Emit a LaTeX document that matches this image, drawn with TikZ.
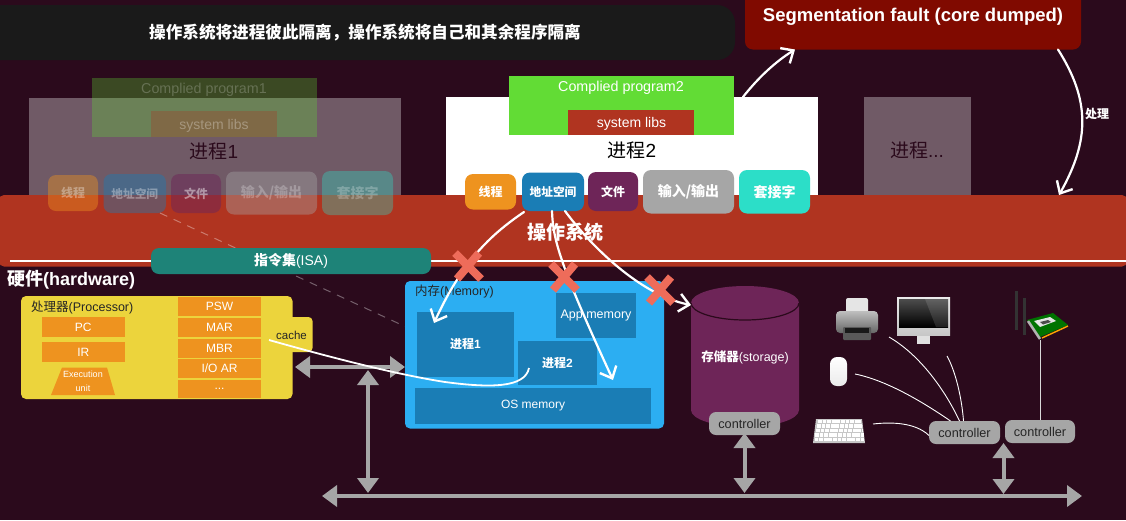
\documentclass[tikz,border=0pt]{standalone}
\usepackage{fontspec}
\setmainfont{Liberation Sans}
\newfontfamily\cjk{Noto Sans CJK SC}
\usetikzlibrary{arrows.meta,calc,shapes.geometric}
\definecolor{bgc}{RGB}{43,10,28}
\definecolor{osred}{RGB}{176,52,32}
\definecolor{banner}{RGB}{26,26,26}
\definecolor{segred}{RGB}{128,10,0}
\definecolor{prog}{RGB}{98,220,53}
\definecolor{orng}{RGB}{238,147,31}
\definecolor{bluebtn}{RGB}{26,125,181}
\definecolor{purp}{RGB}{110,37,88}
\definecolor{gry}{RGB}{166,166,166}
\definecolor{teal1}{RGB}{44,222,200}
\definecolor{isac}{RGB}{30,131,120}
\definecolor{yel}{RGB}{236,212,60}
\definecolor{memc}{RGB}{44,174,242}
\definecolor{xred}{RGB}{238,108,90}
\newcommand\zh[1]{{\cjk #1}}
\newcommand\fz[1]{\fontsize{#1}{#1}\selectfont}
\newcommand\bx[7]{%
  \pgfmathsetmacro\bxw{#4-#2}\pgfmathsetmacro\bxh{#5-#3}%
  \pgfmathsetmacro\bxx{(#2+#4)/2}\pgfmathsetmacro\bxy{(#3+#5)/2}%
  \node[inner sep=0pt,outer sep=0pt,align=center,minimum width=\bxw pt,minimum height=\bxh pt,#6] (#1) at (\bxx,\bxy) {#7};}
\newcommand\redx[3]{%
  \coordinate (#1) at (#2,#3);
  \draw[cross] ([xshift=-11,yshift=-13]#1) -- ([xshift=11,yshift=13]#1);
  \draw[cross] ([xshift=-13,yshift=13]#1) -- ([xshift=13,yshift=-13]#1);}
\tikzset{
  flat/.style={fill=#1,draw=none},
  rnd/.style={rounded corners=#1},
  wire/.style={draw=white,line width=0.9pt},
  hand/.style={draw=white,line width=2.2pt,line cap=round},
  handtip/.style={hand,-{Straight Barb[length=10pt,width=18pt,line width=2.4pt]}},
  greybus/.style={draw=gry,line width=4pt,{Triangle[length=15pt,width=21pt]}-{Triangle[length=15pt,width=21pt]}},
  cross/.style={draw=xred,line width=8pt},
}
\begin{document}
\begin{tikzpicture}[x=1pt,y=-1pt]
\useasboundingbox (0,0) rectangle (1126,520);
\fill[bgc] (0,0) rectangle (1126,520);
% banner and fault
\bx{banner}{-20}{5}{735}{60}{flat=banner,rnd=18pt}{}
\node[text=white] (bannertext) at (365,33) {\fz{16.6}\bfseries\zh{操作系统将进程彼此隔离，操作系统将自己和其余程序隔离}};
\bx{seg}{745}{-12}{1081}{49.5}{flat=segred,rnd=8pt}{}
\node[text=white] (segtext) at (913,17) {\fz{18.5}\bfseries Segmentation fault (core dumped)};
% process 1 (faded)
\bx{p1}{29}{98}{401}{195}{fill=white,opacity=0.33}{}
\bx{prog1}{91.5}{78}{317}{137}{fill=prog,opacity=0.3}{}
\bx{libs1}{151}{111}{277}{137}{fill=osred,opacity=0.3}{}
\node[text=white,opacity=0.22] (prog1t) at (204,90) {\fz{14.3}Complied program1};
\node[text=white,opacity=0.3] (libs1t) at (214,126) {\fz{14}system libs};
\node[text=bgc] (p1t) at (214,151) {\fz{19}\zh{进程}1};
% process 2
\bx{p2}{446}{97}{818}{195}{flat=white}{}
\bx{prog2}{509}{76}{734}{135}{flat=prog}{}
\bx{libs2}{568}{110}{694}{135}{flat=osred}{}
\node[text=white] (prog2t) at (621,88) {\fz{14.3}Complied program2};
\node[text=white] (libs2t) at (631.5,124) {\fz{14}system libs};
\node[text=black] (p2t) at (632,150) {\fz{19}\zh{进程}2};
% process ...
\bx{p3}{864}{96.5}{971}{195}{fill=white,opacity=0.33}{}
\node[text=bgc] (p3t) at (917,150) {\fz{19}\zh{进程}...};
% OS band
\bx{os}{-1}{195}{1127}{266.5}{flat=osred,rnd=5pt}{}
\coordinate (osL) at (10,261);
\coordinate (osR) at (1126,261);
\draw[draw=white,line width=2.4pt] (osL) -- (osR);
\node[text=white] (ost) at (565,232) {\fz{19}\bfseries\zh{操作系统}};
% faded buttons
\bx{a1}{48}{175}{98}{211}{flat=orng,rnd=8pt,opacity=0.42}{}
\bx{b1}{103.5}{174}{166}{213}{flat=bluebtn,rnd=8pt,opacity=0.42}{}
\bx{c1}{171}{174}{221}{213}{flat=purp,rnd=8pt,opacity=0.5}{}
\bx{d1}{226}{171.5}{317}{214.5}{flat=gry,rnd=8pt,opacity=0.4}{}
\bx{e1}{322}{171}{393}{215}{flat=teal1,rnd=8pt,opacity=0.35}{}
\node[text=white,opacity=0.35] (a1t) at (a1) {\fz{12}\bfseries\zh{线程}};
\node[text=white,opacity=0.35] (b1t) at (b1) {\fz{11.7}\bfseries\zh{地址空间}};
\node[text=white,opacity=0.45] (c1t) at (c1) {\fz{12}\bfseries\zh{文件}};
\node[text=white,opacity=0.25] (d1t) at (d1) {\fz{14}\bfseries\zh{输入/输出}};
\node[text=white,opacity=0.25] (e1t) at (e1) {\fz{14}\bfseries\zh{套接字}};
% buttons
\bx{a2}{465}{174}{516}{209.5}{flat=orng,rnd=8pt}{\fz{12}\bfseries\color{white}\zh{线程}}
\bx{b2}{522}{172.5}{584}{211}{flat=bluebtn,rnd=8pt}{\fz{11.7}\bfseries\color{white}\zh{地址空间}}
\bx{c2}{588}{172}{638}{211}{flat=purp,rnd=8pt}{\fz{12}\bfseries\color{white}\zh{文件}}
\bx{d2}{643}{170}{734}{213.5}{flat=gry,rnd=8pt}{\fz{14}\bfseries\color{white}\zh{输入/输出}}
\bx{e2}{739}{170}{810}{213.5}{flat=teal1,rnd=8pt}{\fz{14}\bfseries\color{white}\zh{套接字}}
% dashed
\coordinate (dashend) at (417,332);
\draw[draw=white,opacity=0.35,line width=1pt,dash pattern=on 8pt off 7pt] ([xshift=-6]b1.south east) -- (dashend);
% ISA
\bx{isa}{151}{248}{431}{274}{flat=isac,rnd=8pt}{\fz{14}\bfseries\color{white}\zh{指令集}\mdseries(ISA)}
% hardware
\node[text=white,anchor=west,inner sep=0pt] (hw) at (7,279.5) {\fz{18}\bfseries\zh{硬件}(hardware)};
% processor
\bx{cachetab}{280}{317}{312.5}{352}{flat=yel,rnd=4pt}{}
\bx{cpu}{21}{296}{292.5}{399}{flat=yel,rnd=5pt}{}
\node[anchor=west,inner sep=0pt,text=black!85] (cput) at (31,307.5) {\fz{12.5}\zh{处理器}(Processor)};
\node[inner sep=0pt,text=black!85] (cachet) at (291.5,335) {\fz{11.5}cache};
\bx{pc}{41.5}{317}{125}{337}{flat=orng}{\fz{12}\color{white}PC}
\bx{ir}{41.5}{342}{125}{362}{flat=orng}{\fz{12}\color{white}IR}
\fill[orng] (62,367.5) -- (107,367.5) -- (115,395) -- (51,395) -- cycle;
\node[text=white,align=center,inner sep=0pt] (exect) at (83,381) {\fz{9}Execution\\[2pt]\fz{9}unit};
\bx{psw}{178}{297}{261}{316}{flat=orng}{\fz{12}\color{white}PSW}
\bx{mar}{178}{317.5}{261}{337}{flat=orng}{\fz{12}\color{white}MAR}
\bx{mbr}{178}{338.5}{261}{358}{flat=orng}{\fz{12}\color{white}MBR}
\bx{ioar}{178}{359}{261}{378}{flat=orng}{\fz{12}\color{white}I/O AR}
\bx{dots}{178}{379.5}{261}{398}{flat=orng}{\fz{12}\color{white}...}
% memory
\bx{mem}{405}{281}{664}{428.5}{flat=memc,rnd=5pt}{}
\node[anchor=west,inner sep=0pt,text=black!85] (memt) at (415,292) {\fz{12.5}\zh{内存}(Memory)};
\bx{m1}{417}{312}{514}{377}{flat=bluebtn}{\fz{12}\bfseries\color{white}\zh{进程}1}
\bx{m2}{518}{340.5}{597}{385}{flat=bluebtn}{\fz{12}\bfseries\color{white}\zh{进程}2}
\bx{m3}{556}{293}{636}{338}{flat=bluebtn}{\fz{12.5}\color{white}App memory}
\bx{m4}{415}{388}{651}{424}{flat=bluebtn}{\fz{12}\color{white}OS memory}
% storage
\fill[purp] (691,303) -- (691,410) arc[x radius=54,y radius=17,start angle=180,end angle=0] -- (799,303) -- cycle;
\fill[purp] (745,303) ellipse[x radius=54,y radius=17];
\draw[draw=bgc,line width=1.2pt] (691,303) arc[x radius=54,y radius=17,start angle=180,end angle=0];
\node[text=white] (stt) at (745,357) {\fz{12.5}\bfseries\zh{存储器}\mdseries(storage)};
\tikzset{ctrl/.style={flat=gry,rnd=7pt}}
\bx{c0}{709}{412}{780}{435}{ctrl}{\fz{12.7}\color{black!85}controller}
\bx{c1b}{929}{421}{1000}{444}{ctrl}{\fz{12.7}\color{black!85}controller}
\bx{c2b}{1005}{420}{1075}{443}{ctrl}{\fz{12.7}\color{black!85}controller}
% printer
\fill[rounded corners=2pt,fill=black!10] (846,298) rectangle (868,313);
\shade[rounded corners=4pt,top color=black!25,bottom color=black!60] (836,311) rectangle (878,333);
\fill[rounded corners=1pt,black!65] (843,327) rectangle (871,340);
\fill[black!90] (845,327.5) rectangle (869,333);
% monitor
\fill[black!12] (917,335) rectangle (930,344);
\shade[top color=black!8,bottom color=black!22] (897,297) rectangle (950,335);
\shade[top color=black!70,bottom color=black] (899,299) rectangle (948,327);
\fill[white,opacity=0.12] (925,299) -- (948,299) -- (948,327) -- (936,327) -- cycle;
% mouse
\shade[rounded corners=7pt,top color=white,bottom color=black!8] (830,357) rectangle (847,386);
% keyboard
\fill[black!22] (816,419) -- (862,419) -- (865,443) -- (813,443) -- cycle;
\foreach \r/\a/\b in {421.5/818/861,426/817/862,430.5/816/863,435/815/864,439.5/814.5/864.5}{
  \draw[draw=white,line width=3.1pt,dash pattern=on 3.8pt off 0.8pt] (\a,\r) -- (\b,\r);}
% network card
\fill[green!45!black] (1027,320) -- (1053,313) -- (1068,325) -- (1040,337) -- cycle;
\fill[black!10] (1034,321) -- (1050,317) -- (1056,321) -- (1040,327) -- cycle;
\fill[black!70] (1040,322) -- (1048,320) -- (1051,322) -- (1043,324.5) -- cycle;
\draw[draw=orange!70!yellow,line width=1.4pt] (1042,338) -- (1068,326);
\draw[draw=black!30,line width=2.6pt] (1028,321) -- (1040,339);
\draw[draw=black!80,line width=3pt] (1016,291) -- (1016,330);
\draw[draw=black!80,line width=3pt] (1024,298) -- (1024,335);
% device wires
\coordinate (wprinter) at (889,337);
\coordinate (wmonitor) at (947,356);
\coordinate (wmouse) at (855,374);
\coordinate (wkbd) at (873,424);
\coordinate (wnic) at (1040,340);
\draw[wire] (wprinter) .. controls (920,355) and (945,390) .. ([xshift=-5]c1b.north);
\draw[wire] (wmonitor) .. controls (956,372) and (962,400) .. ([xshift=-1]c1b.north);
\draw[wire] (wmouse) .. controls (885,380) and (920,400) .. ([xshift=-14]c1b.north);
\draw[wire] (wkbd) .. controls (890,422) and (915,422) .. ([yshift=-3]c1b.west);
\draw[wire,draw=white!85!black] (wnic) -- (c2b.north);
% buses
\coordinate (busL) at (322,496);
\coordinate (busR) at (1082,496);
\coordinate (busJ) at (368,493);
\coordinate (busA) at (744.5,493);
\coordinate (busB) at (1003.5,494);
\coordinate (cpuR) at (295,367);
\coordinate (memL) at (405,367);
\coordinate (cpumem) at (368,370);
\coordinate (c1bus) at (1003.5,443);
\coordinate (c0bus) at (744.5,433);
\draw[greybus] (busL) -- (busR);
\draw[greybus] (cpuR) -- (memL);
\draw[greybus] (cpumem) -- (busJ);
\draw[greybus] (c0bus) -- (busA);
\draw[greybus] (c1bus) -- (busB);
% cache line
\coordinate (cachest) at (269,340);
\coordinate (m2end) at (529,368);
\draw[draw=white,line width=1.8pt] (cachest) .. controls (340,360) and (400,375) .. (445,382) .. controls (490,388) and (525,388) .. (m2end);
% fault arrows
\draw[handtip] ([xshift=-75]p2.north east) .. controls (758,78) and (775,62) .. ([xshift=50]seg.south west);
\draw[handtip] ([xshift=-23]seg.south east) .. controls (1090,100) and (1090,140) .. ([xshift=-68]os.north east);
\node[text=white] (handle) at (1097,114) {\fz{12}\bfseries\zh{处理}};
% isolation arrows
\coordinate (t1) at (434,323);
\coordinate (t2) at (613,380);
\coordinate (t3) at (691,305);
\draw[handtip] ([xshift=2,yshift=-1]b2.south west) .. controls (490,235) and (462,262) .. (t1);
\draw[handtip] ([xshift=-1]b2.south) .. controls (553,240) and (560,265) .. (t2);
\draw[handtip] ([xshift=12]b2.south) .. controls (590,245) and (640,295) .. (t3);
\redx{xa}{468}{266}
\redx{xb}{564}{277}
\redx{xc}{660}{290}
\end{tikzpicture}
\end{document}
